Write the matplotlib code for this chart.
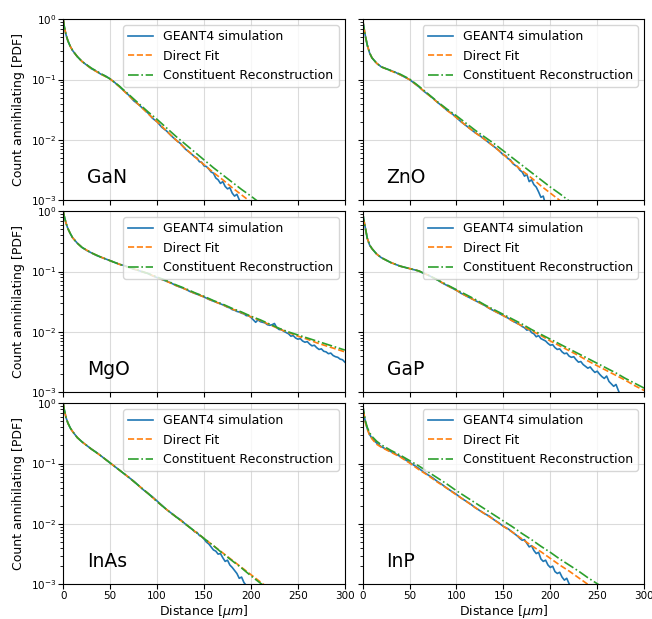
import matplotlib
matplotlib.use('Agg')
import matplotlib.pyplot as plt
import numpy as np

# Distance grid used for the fitted curves [um]
FX = [0, 1, 2, 3, 5, 7.5, 10, 15, 20, 30, 40, 50, 60, 70, 80, 90, 100, 110, 120, 130,
      140, 150, 160, 170, 180, 190, 200, 210, 220, 230, 240, 250, 260, 270, 280, 290, 300]

materials = ["GaN", "ZnO", "MgO", "GaP", "InAs", "InP"]

# log10 of the PDF values
gan_fit = [0, -0.11, -0.19, -0.26, -0.36, -0.45, -0.52, -0.62, -0.70, -0.82, -0.91, -0.99, -1.12, -1.27,
           -1.41, -1.56, -1.70, -1.85, -2.00, -2.14, -2.28, -2.41, -2.54, -2.66, -2.79, -2.91, -3.03, -3.15]
gan_cr = [0, -0.11, -0.19, -0.26, -0.36, -0.45, -0.52, -0.62, -0.70, -0.81, -0.90, -0.99, -1.11, -1.25,
          -1.39, -1.53, -1.66, -1.80, -1.94, -2.07, -2.20, -2.33, -2.46, -2.58, -2.70, -2.82, -2.93, -3.05]
gan_sim_x = [0, 1, 2, 3, 5, 7.5, 10, 15, 20, 25, 30, 35, 40, 45, 50, 55, 60, 65, 70, 75, 80, 85, 90, 95,
             100, 105, 110, 115, 120, 125, 130, 135, 140, 142.5, 145, 147.5, 150, 152.5, 155, 157.5, 160,
             162.5, 165, 167.5, 170, 172.5, 175, 177.5, 180, 182.5, 185, 187.5, 190, 192.5]
gan_sim = [0, -0.11, -0.19, -0.26, -0.36, -0.45, -0.52,
           -0.62, -0.70, -0.76, -0.82, -0.86, -0.91, -0.94, -0.99, -1.05, -1.12,
           -1.19, -1.26, -1.35, -1.41, -1.48, -1.55, -1.64, -1.70, -1.79, -1.85,
           -1.93, -2.00, -2.06, -2.15, -2.21, -2.28,
           -2.30, -2.36, -2.37, -2.43, -2.44, -2.48, -2.53, -2.55, -2.63, -2.66, -2.72, -2.69, -2.77,
           -2.81, -2.79, -2.88, -2.93, -2.90, -2.99, -3.05, -3.12]

zno_fit = [0, -0.10, -0.19, -0.28, -0.43, -0.56, -0.64, -0.73, -0.79, -0.855, -0.92, -1.00, -1.12, -1.25,
           -1.38, -1.51, -1.63, -1.76, -1.88, -1.99, -2.11, -2.24, -2.38, -2.51, -2.63, -2.76, -2.88, -3.00, -3.12]
zno_cr = [0, -0.10, -0.19, -0.28, -0.43, -0.56, -0.64, -0.73, -0.79, -0.85, -0.91, -0.99, -1.11, -1.24,
          -1.37, -1.49, -1.60, -1.72, -1.84, -1.95, -2.06, -2.18, -2.30, -2.42, -2.54, -2.66, -2.78, -2.89,
          -3.01, -3.13]
zno_sim_x = [0, 1, 2, 3, 5, 7.5, 10, 15, 20, 25, 30, 35, 40, 45, 50, 55, 60, 65, 70, 75, 80, 85, 90, 95,
             100, 105, 110, 115, 120, 125, 130, 135, 140, 145, 147.5, 150, 152.5, 155, 157.5, 160, 162.5,
             165, 167.5, 170, 172.5, 175, 177.5, 180, 182.5, 185, 187.5, 190, 192.5, 195]
zno_sim = [0, -0.10, -0.19, -0.28, -0.43, -0.56, -0.64,
           -0.73, -0.79, -0.82, -0.85, -0.88, -0.92, -0.96, -1.00, -1.06, -1.12,
           -1.19, -1.25, -1.31, -1.38, -1.44, -1.51, -1.56, -1.63, -1.70, -1.76,
           -1.82, -1.88, -1.93, -1.99, -2.05, -2.11, -2.17,
           -2.21, -2.25, -2.26, -2.31, -2.33, -2.39, -2.42, -2.44, -2.50, -2.53, -2.60, -2.57, -2.69,
           -2.66, -2.74, -2.78, -2.86, -2.95, -2.93, -3.08]

mgo_fit = [0, -0.08, -0.14, -0.20, -0.29, -0.37, -0.44, -0.53, -0.60, -0.69, -0.76, -0.82, -0.88, -0.93,
           -0.98, -1.03, -1.10, -1.16, -1.23, -1.29, -1.36, -1.42, -1.49, -1.55, -1.62, -1.68, -1.75, -1.81,
           -1.88, -1.95, -2.01, -2.07, -2.12, -2.18, -2.23, -2.28, -2.33]
mgo_cr = [0, -0.08, -0.14, -0.20, -0.29, -0.37, -0.44, -0.53, -0.60, -0.69, -0.76, -0.82, -0.88, -0.93,
          -0.98, -1.03, -1.09, -1.15, -1.22, -1.28, -1.35, -1.41, -1.48, -1.54, -1.61, -1.67, -1.74, -1.80,
          -1.87, -1.94, -2.00, -2.05, -2.10, -2.15, -2.20, -2.25, -2.30]
mgo_sim_x = [0, 1, 2, 3, 5, 7.5, 10, 15, 20, 25, 30, 35, 40, 45, 50, 55, 60, 65, 70, 75, 80, 85, 90, 95,
             100, 105, 110, 115, 120, 125, 130, 135, 140, 145, 150, 155, 160, 165, 170, 175,
             177.5, 180, 182.5, 185, 187.5, 190, 192.5, 195, 197.5, 200,
             202.5, 205, 207.5, 210, 212.5, 215, 217.5, 220, 222.5, 225,
             227.5, 230, 232.5, 235, 237.5, 240, 242.5, 245, 247.5, 250,
             252.5, 255, 257.5, 260, 262.5, 265, 267.5, 270, 272.5, 275,
             277.5, 280, 282.5, 285, 287.5, 290, 292.5, 295, 297.5, 300]
mgo_sim = [0, -0.08, -0.14, -0.20, -0.29, -0.37, -0.44,
           -0.53, -0.60, -0.65, -0.69, -0.73, -0.76, -0.79, -0.82, -0.85, -0.88,
           -0.90, -0.93, -0.96, -0.98, -1.01, -1.03, -1.07, -1.10, -1.13, -1.16,
           -1.19, -1.23, -1.26, -1.29, -1.33, -1.36, -1.39, -1.42, -1.46, -1.49,
           -1.52, -1.55, -1.59,
           -1.60, -1.63, -1.64, -1.66, -1.67, -1.69, -1.70, -1.73, -1.73, -1.76,
           -1.80, -1.84, -1.80, -1.83, -1.84, -1.85, -1.88, -1.89, -1.88, -1.86,
           -1.93, -1.96, -1.96, -1.99, -2.01, -2.03, -2.07, -2.06, -2.10, -2.12,
           -2.11, -2.15, -2.17, -2.16, -2.20, -2.23, -2.22, -2.26, -2.29, -2.28,
           -2.32, -2.33, -2.36, -2.35, -2.39, -2.41, -2.42, -2.45, -2.46, -2.50]

gap_fit = [0, -0.12, -0.20, -0.28, -0.45, -0.56, -0.62, -0.71, -0.77, -0.85, -0.91, -0.95, -0.99, -1.06,
           -1.14, -1.23, -1.31, -1.40, -1.48, -1.56, -1.65, -1.73, -1.82, -1.90, -1.98, -2.06, -2.15, -2.23,
           -2.31, -2.39, -2.48, -2.56, -2.64, -2.72, -2.80, -2.89, -2.97]
gap_cr = [0, -0.12, -0.20, -0.28, -0.45, -0.56, -0.62, -0.71, -0.77, -0.85, -0.91, -0.95, -0.99, -1.06,
          -1.14, -1.22, -1.30, -1.38, -1.46, -1.55, -1.63, -1.71, -1.79, -1.87, -1.96, -2.04, -2.12, -2.20,
          -2.28, -2.36, -2.44, -2.52, -2.60, -2.68, -2.77, -2.85, -2.93]
gap_sim_x = [0, 1, 2, 3, 5, 7.5, 10, 15, 20, 25, 30, 35, 40, 45, 50, 55, 60, 65, 70, 75, 80, 85, 90, 95,
             100, 105, 110, 115, 120, 125, 130, 135, 140, 145, 150, 155, 160, 165,
             167.5, 170, 172.5, 175, 177.5, 180, 182.5, 185, 187.5, 190,
             192.5, 195, 197.5, 200, 202.5, 205, 207.5, 210, 212.5, 215,
             217.5, 220, 222.5, 225, 227.5, 230, 232.5, 235, 237.5, 240,
             242.5, 245, 247.5, 250, 252.5, 255, 257.5, 260, 262.5, 265,
             267.5, 270, 272.5, 275]
gap_sim = [0, -0.12, -0.20, -0.28, -0.45, -0.56, -0.62,
           -0.71, -0.77, -0.81, -0.85, -0.88, -0.91, -0.93, -0.95, -0.97, -0.99,
           -1.03, -1.06, -1.10, -1.14, -1.19, -1.23, -1.27, -1.31, -1.36, -1.40,
           -1.44, -1.48, -1.52, -1.56, -1.61, -1.65, -1.69, -1.73, -1.77, -1.82,
           -1.86,
           -1.88, -1.91, -1.93, -1.97, -1.96, -2.01, -2.03, -2.08, -2.06, -2.11,
           -2.13, -2.15, -2.19, -2.22, -2.21, -2.26, -2.29, -2.28, -2.33, -2.36,
           -2.35, -2.40, -2.42, -2.41, -2.46, -2.50, -2.49, -2.54, -2.57, -2.60,
           -2.58, -2.63, -2.67, -2.65, -2.70, -2.74, -2.77, -2.73, -2.82, -2.86,
           -2.90, -2.87, -2.97, -3.06]

inas_fit = [0, -0.10, -0.17, -0.24, -0.33, -0.41, -0.47, -0.57, -0.64, -0.76, -0.87, -0.99, -1.11, -1.23,
            -1.36, -1.49, -1.63, -1.76, -1.88, -2.00, -2.12, -2.24, -2.36, -2.48, -2.60, -2.72, -2.84, -2.96,
            -3.08]
inas_cr = [0, -0.10, -0.17, -0.24, -0.33, -0.41, -0.47, -0.57, -0.64, -0.76, -0.87, -0.99, -1.11, -1.23,
           -1.36, -1.49, -1.63, -1.76, -1.88, -2.00, -2.12, -2.24, -2.36, -2.49, -2.61, -2.73, -2.86, -2.98,
           -3.10]
inas_sim_x = [0, 1, 2, 3, 5, 7.5, 10, 15, 20, 25, 30, 35, 40, 45, 50, 55, 60, 65, 70, 75, 80, 85, 90, 95,
              100, 105, 110, 115, 120, 125, 130, 135,
              137.5, 140, 142.5, 145, 147.5, 150, 152.5, 155, 157.5, 160,
              162.5, 165, 167.5, 170, 172.5, 175, 177.5, 180, 182.5, 185,
              187.5, 190, 192.5, 195, 197.5]
inas_sim = [0, -0.10, -0.17, -0.24, -0.33, -0.41, -0.47,
            -0.57, -0.64, -0.70, -0.76, -0.81, -0.87, -0.93, -0.99, -1.05, -1.11,
            -1.17, -1.23, -1.29, -1.36, -1.43, -1.49, -1.55, -1.62, -1.69, -1.76,
            -1.82, -1.88, -1.93, -2.00, -2.06,
            -2.09, -2.13, -2.14, -2.19, -2.21, -2.25, -2.30, -2.33, -2.38, -2.43,
            -2.45, -2.50, -2.49, -2.56, -2.62, -2.60, -2.68, -2.72, -2.77, -2.82,
            -2.90, -2.88, -2.97, -3.02, -3.10]

inp_fit = [0, -0.13, -0.23, -0.32, -0.43, -0.53, -0.59, -0.68, -0.73, -0.81, -0.89, -0.99, -1.10, -1.20,
           -1.31, -1.41, -1.52, -1.62, -1.73, -1.83, -1.93, -2.04, -2.14, -2.25, -2.36, -2.46, -2.57, -2.68,
           -2.78, -2.89, -3.00, -3.10]
inp_cr = [0, -0.12, -0.21, -0.29, -0.40, -0.49, -0.55, -0.63, -0.69, -0.78, -0.86, -0.95, -1.04, -1.14,
          -1.24, -1.34, -1.45, -1.55, -1.65, -1.75, -1.85, -1.95, -2.05, -2.16, -2.26, -2.37, -2.47, -2.58,
          -2.68, -2.78, -2.89, -2.99, -3.09]
inp_sim_x = [0, 1, 2, 3, 5, 7.5, 10, 15, 20, 25, 30, 35, 40, 45, 50, 55, 60, 65, 70, 75, 80, 85, 90, 95,
             100, 105, 110, 115, 120, 125, 130, 135, 140, 145, 150, 155, 160,
             162.5, 165, 167.5, 170, 172.5, 175, 177.5, 180, 182.5, 185,
             187.5, 190, 192.5, 195, 197.5, 200, 202.5, 205, 207.5, 210,
             212.5, 215, 217.5, 220, 222.5, 225]
inp_sim = [0, -0.13, -0.23, -0.31, -0.42, -0.52, -0.58,
           -0.66, -0.72, -0.76, -0.80, -0.84, -0.88, -0.93, -0.98, -1.03, -1.08,
           -1.14, -1.19, -1.24, -1.30, -1.35, -1.41, -1.46, -1.51, -1.57, -1.62,
           -1.67, -1.73, -1.78, -1.83, -1.87, -1.93, -1.98, -2.04, -2.08, -2.14,
           -2.17, -2.20, -2.24, -2.27, -2.26, -2.32, -2.38, -2.36, -2.44, -2.49,
           -2.47, -2.58, -2.62, -2.60, -2.68, -2.72, -2.70, -2.79, -2.82, -2.80,
           -2.88, -2.93, -2.90, -2.99, -3.04, -3.12]

sim_x = [gan_sim_x, zno_sim_x, mgo_sim_x, gap_sim_x, inas_sim_x, inp_sim_x]
sim_log = [gan_sim, zno_sim, mgo_sim, gap_sim, inas_sim, inp_sim]
fit_log = [gan_fit, zno_fit, mgo_fit, gap_fit, inas_fit, inp_fit]
cr_log = [gan_cr, zno_cr, mgo_cr, gap_cr, inas_cr, inp_cr]

x_ticks = [0, 50, 100, 150, 200, 250, 300]

fig, axes = plt.subplots(3, 2, figsize=(6.52, 6.19), dpi=100, sharex=True, sharey=True)
fig.subplots_adjust(left=0.097, right=0.988, top=0.969, bottom=0.056, hspace=0.06, wspace=0.063)

for i, ax in enumerate(axes.flat):
    sx, sl = sim_x[i], sim_log[i]
    assert len(sx) == len(sl), (materials[i], len(sx), len(sl))
    fl, cl = fit_log[i], cr_log[i]
    ax.plot(sx, 10 ** np.array(sl), color='tab:blue', lw=1.2, label='GEANT4 simulation')
    ax.plot(FX[:len(fl)], 10 ** np.array(fl), '--', color='tab:orange', lw=1.2, label='Direct Fit')
    ax.plot(FX[:len(cl)], 10 ** np.array(cl), '-.', color='tab:green', lw=1.2,
            label='Constituent Reconstruction')
    ax.set_yscale('log')
    ax.set_ylim(1e-3, 1)
    ax.set_xlim(0, 300)
    ax.set_xticks(x_ticks)
    ax.grid(True, which='major', color='#b0b0b0', alpha=0.45, lw=0.8)
    ax.tick_params(which='major', labelsize=7.5, length=3.5, pad=1.5)
    ax.tick_params(which='minor', length=2)
    ax.legend(loc='upper right', fontsize=9)
    ax.text(0.085, 0.095, materials[i], transform=ax.transAxes, fontsize=13.5, va='baseline')
    if i % 2 == 0:
        ax.set_ylabel('Count annihilating [PDF]', fontsize=9, labelpad=4)
    if i >= 4:
        ax.set_xlabel(r'Distance [$\mu m$]', fontsize=9, labelpad=1)

fig.savefig('out.png', dpi=100)
